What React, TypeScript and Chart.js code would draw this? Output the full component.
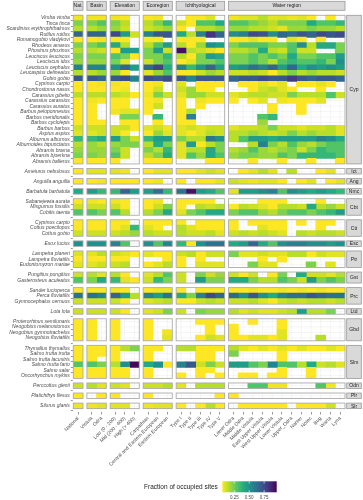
import React, { useEffect, useRef } from "react";
import { Chart, registerables } from "chart.js";

Chart.register(...registerables);

const _ = null;

// ---- column categories ----
const COLUMNS = [
  "National",
  "Vistula", "Odra",
  "Low (0 - 200)", "Mid (200 - 400)", "High (> 400)",
  "Carpathian", "Central and Eastern European", "Eastern European",
  "Type I", "Type II", "Type III", "Type IV", "Type V",
  "Lower Odra", "Middle Odra", "Middle Vistula", "East Upper Vistula", "West Upper Vistula",
  "Lower Vistula", "Upper_Odra", "Narew", "Notec", "Bug", "Warta", "Lyna",
];
const COLUMN_PANELS = ["Nat.", "Basin", "Elevation", "Ecoregion", "Ichthyological", "Water region"];
const PANEL_COUNTS = [1, 2, 3, 3, 5, 12];

// ---- legend ----
const LEGEND_TITLE = "Fraction of occupied sites";
const LEGEND_TICKS = [0.25, 0.5, 0.75];
const COLOR_MIN = 0.05;
const COLOR_MAX = 0.96;

// ---- species & values by family group ----
const CYP_SPECIES = [
  "Vimba vimba", "Tinca tinca", "Scardinius erythrophthalmus", "Rutilus rutilus", "Romanogobio vladykovi",
  "Rhodeus amarus", "Phoxinus phoxinus", "Leuciscus leuciscus", "Leuciscus idus", "Leuciscus cephalus",
  "Leucaspius delineatus", "Gobio gobio", "Cyprinus carpio", "Chondrostoma nasus", "Carassius gibelio",
  "Carassius carassius", "Carassius auratus", "Barbus peloponnesius", "Barbus meridionalis", "Barbus cyclolepis",
  "Barbus barbus", "Aspius aspius", "Alburnus alburnus", "Alburnoides bipunctatus", "Abramis brama",
  "Abramis bjoerkna", "Abramis ballerus",
];
const CYP_VALUES = [
  [0.07, 0.07, 0.07, 0.07, 0.06, _, 0.06, 0.07, _, _, 0.05, 0.05, 0.09, _, 0.07, 0.09, 0.09, 0.15, 0.09, 0.1, 0.07, 0.09, 0.05, _, 0.05, _],
  [0.23, 0.23, 0.3, 0.23, 0.15, _, 0.15, 0.23, 0.36, 0.12, 0.05, 0.3, 0.3, 0.41, 0.3, 0.3, 0.23, 0.19, 0.15, 0.23, 0.23, 0.23, 0.41, 0.3, 0.3, 0.36],
  [0.15, 0.15, 0.19, 0.19, 0.12, _, 0.12, 0.15, 0.19, 0.05, _, 0.15, 0.15, 0.19, 0.19, 0.19, 0.15, 0.15, 0.12, 0.09, 0.19, 0.19, 0.23, 0.19, 0.19, 0.15],
  [0.66, 0.66, 0.66, 0.75, 0.46, 0.12, 0.56, 0.71, 0.71, 0.41, 0.15, 0.56, 0.82, 0.66, 0.51, 0.56, 0.75, 0.71, 0.51, 0.66, 0.62, 0.71, 0.66, 0.75, 0.71, 0.75],
  [0.05, 0.05, 0.07, 0.05, 0.05, _, 0.05, 0.05, _, 0.05, 0.05, 0.05, _, _, 0.05, 0.05, 0.09, 0.05, 0.05, _, 0.09, 0.05, _, 0.05, _, _],
  [0.23, 0.23, 0.3, 0.41, 0.15, _, 0.15, 0.3, 0.46, 0.15, 0.05, 0.19, 0.51, 0.46, 0.23, 0.3, 0.3, 0.3, 0.23, 0.23, 0.3, 0.51, 0.15, 0.41, 0.41, 0.23],
  [0.15, 0.15, 0.12, 0.05, 0.46, 0.46, 0.23, 0.46, 0.12, 0.92, 0.15, 0.12, 0.09, 0.05, 0.15, 0.15, 0.19, 0.41, 0.15, 0.12, 0.3, 0.12, 0.12, _, _, 0.23],
  [0.23, 0.23, 0.23, 0.3, 0.23, 0.05, 0.23, 0.23, 0.36, 0.15, 0.05, 0.23, 0.46, 0.41, 0.23, 0.23, 0.3, 0.23, 0.3, 0.23, 0.41, 0.23, 0.23, 0.3, 0.3, 0.46],
  [0.19, 0.19, 0.19, 0.23, 0.09, _, 0.12, 0.23, 0.3, 0.05, 0.09, 0.23, 0.23, 0.3, 0.23, 0.23, 0.3, 0.23, 0.15, 0.3, 0.36, 0.3, 0.3, 0.36, 0.23, 0.51],
  [0.56, 0.56, 0.56, 0.51, 0.66, 0.46, 0.66, 0.78, 0.41, 0.56, 0.36, 0.51, 0.66, 0.46, 0.46, 0.51, 0.62, 0.56, 0.66, 0.46, 0.66, 0.41, 0.51, 0.46, 0.51, 0.46],
  [0.15, 0.15, 0.19, 0.19, 0.05, _, 0.09, 0.19, 0.3, 0.05, 0.05, 0.12, 0.19, 0.15, 0.12, 0.12, 0.15, 0.12, 0.05, 0.15, 0.23, 0.15, 0.19, 0.15, 0.15, 0.12],
  [0.71, 0.71, 0.66, 0.71, 0.75, 0.56, 0.75, 0.71, 0.75, 0.71, 0.56, 0.71, 0.71, 0.71, 0.66, 0.71, 0.71, 0.75, 0.71, 0.71, 0.8, 0.71, 0.66, 0.71, 0.71, 0.66],
  [0.05, 0.05, 0.07, 0.07, 0.05, _, 0.05, 0.07, _, 0.09, _, 0.05, 0.05, 0.05, _, 0.05, 0.05, 0.09, 0.05, 0.09, _, 0.05, 0.05, 0.09, 0.05, _],
  [0.05, 0.05, 0.05, 0.05, 0.07, _, 0.05, 0.12, _, 0.12, 0.19, 0.05, 0.05, _, _, _, 0.05, 0.12, 0.15, 0.09, 0.05, _, _, 0.05, _, _],
  [0.15, 0.15, 0.15, 0.15, 0.12, 0.05, 0.07, 0.23, 0.12, 0.09, 0.19, 0.19, 0.12, 0.12, 0.09, 0.12, 0.15, 0.15, 0.12, 0.12, 0.23, 0.15, 0.15, 0.15, 0.3, 0.12],
  [0.05, 0.07, 0.05, 0.05, 0.05, _, 0.05, 0.07, _, 0.05, _, 0.07, 0.05, 0.05, 0.05, _, 0.05, 0.09, _, 0.07, 0.05, 0.05, 0.05, 0.09, _, _],
  [0.05, 0.05, _, 0.05, 0.05, _, 0.05, 0.12, _, 0.05, _, 0.05, _, _, _, _, _, _, 0.05, _, _, 0.05, _, _, _, _],
  [0.05, 0.05, _, 0.07, 0.09, 0.09, 0.05, _, _, 0.05, 0.15, _, _, _, _, _, _, _, 0.05, _, _, 0.05, _, _, _, _],
  [0.05, 0.05, _, _, 0.23, 0.23, _, 0.36, _, 0.05, 0.56, _, _, _, _, _, _, 0.3, 0.36, _, _, _, _, _, _, _],
  [0.05, 0.05, 0.05, _, 0.05, 0.05, _, 0.05, _, 0.05, 0.05, _, _, _, _, _, _, 0.19, _, _, _, _, _, _, _, _],
  [0.12, 0.12, 0.12, 0.12, 0.12, 0.05, 0.09, 0.12, 0.07, 0.09, 0.12, 0.09, 0.12, 0.12, 0.09, 0.12, 0.12, 0.15, 0.23, 0.12, 0.12, 0.09, 0.12, 0.12, 0.15, 0.09],
  [0.09, 0.09, 0.12, 0.12, 0.05, _, 0.05, 0.19, 0.09, 0.09, 0.05, 0.09, 0.15, 0.12, 0.15, 0.15, 0.19, 0.15, 0.12, 0.15, 0.23, 0.15, 0.19, 0.15, 0.15, 0.09],
  [0.36, 0.36, 0.41, 0.46, 0.23, 0.12, 0.36, 0.46, 0.46, 0.23, 0.15, 0.15, 0.6, 0.51, 0.15, 0.3, 0.46, 0.46, 0.41, 0.46, 0.46, 0.46, 0.46, 0.56, 0.51, 0.41],
  [0.15, 0.19, 0.15, 0.19, 0.23, 0.23, 0.15, 0.41, 0.23, 0.09, 0.46, 0.05, 0.15, 0.23, _, _, 0.15, 0.56, 0.23, 0.15, 0.3, 0.19, 0.15, 0.23, 0.3, 0.3],
  [0.19, 0.19, 0.19, 0.23, 0.12, _, 0.23, 0.15, 0.36, 0.09, 0.15, 0.15, 0.41, 0.23, 0.15, 0.19, 0.3, 0.19, 0.15, 0.19, 0.23, 0.12, 0.23, 0.36, 0.3, 0.3],
  [0.23, 0.23, 0.19, 0.3, 0.12, _, 0.15, 0.23, 0.41, 0.09, 0.3, 0.19, 0.41, 0.3, 0.19, 0.23, 0.23, 0.19, 0.19, 0.3, 0.23, 0.36, 0.36, 0.36, 0.36, 0.3],
  [0.05, 0.05, 0.05, 0.05, _, _, 0.05, 0.05, 0.05, _, _, _, 0.05, 0.05, _, _, 0.05, _, _, 0.05, _, _, 0.05, _, _, 0.05],
];

const ICT_SPECIES = ["Ameiurus nebulosus"];
const ICT_VALUES = [
  [0.05, 0.09, 0.09, 0.09, 0.07, _, 0.05, 0.09, 0.09, 0.05, 0.05, 0.09, 0.12, 0.09, _, 0.05, 0.09, 0.15, 0.09, _, 0.15, _, _, 0.05, 0.09, _],
];

const ANG_SPECIES = ["Anguilla anguilla"];
const ANG_VALUES = [
  [0.05, 0.05, 0.07, 0.05, 0.05, 0.05, 0.05, 0.07, _, 0.05, _, 0.05, 0.05, 0.09, 0.12, 0.09, 0.07, 0.09, 0.09, 0.05, _, 0.05, 0.09, _, 0.05, 0.09],
];

const NMC_SPECIES = ["Barbatula barbatula"];
const NMC_VALUES = [
  [0.41, 0.46, 0.36, 0.36, 0.66, 0.46, 0.46, 0.62, 0.36, 0.62, 0.92, 0.46, 0.41, 0.3, 0.09, 0.46, 0.46, 0.51, 0.56, 0.3, 0.51, 0.46, 0.41, 0.46, 0.41, 0.36],
];

const CBT_SPECIES = ["Sabanejewia aurata", "Misgurnus fossilis", "Cobitis taenia"];
const CBT_VALUES = [
  [0.05, 0.07, 0.05, 0.07, 0.05, _, 0.05, 0.07, _, 0.05, 0.05, 0.05, 0.05, _, _, _, _, 0.05, 0.05, 0.05, _, _, _, 0.05, _, _],
  [0.12, 0.12, 0.12, 0.12, 0.05, _, 0.05, 0.12, 0.23, 0.05, _, 0.15, 0.12, 0.15, 0.05, 0.15, 0.12, 0.09, 0.05, 0.15, 0.15, 0.12, 0.41, 0.15, 0.19, 0.12],
  [0.3, 0.3, 0.23, 0.3, 0.15, _, 0.15, 0.23, 0.41, 0.09, 0.23, 0.3, 0.41, 0.41, 0.23, 0.3, 0.3, 0.19, 0.15, 0.23, 0.3, 0.3, 0.23, 0.3, 0.36, 0.46],
];

const CTT_SPECIES = ["Cyprinus carpio", "Cottus poecilopus", "Cottus gobio"];
const CTT_VALUES = [
  [0.05, 0.05, 0.05, 0.05, 0.05, _, 0.05, 0.05, 0.05, 0.05, _, 0.05, 0.05, 0.05, 0.05, _, 0.05, 0.05, 0.05, 0.05, _, 0.05, _, 0.05, 0.05, _],
  [0.05, 0.05, 0.05, 0.05, 0.09, 0.36, 0.09, 0.05, _, 0.15, 0.09, 0.05, 0.05, 0.05, 0.05, _, _, 0.09, 0.05, 0.05, _, _, _, 0.05, _, _],
  [0.12, 0.12, 0.12, 0.12, 0.15, 0.19, 0.15, 0.12, 0.12, 0.15, 0.12, 0.12, 0.15, 0.09, 0.12, 0.15, 0.12, 0.15, 0.12, 0.09, _, 0.15, 0.12, 0.15, 0.15, 0.12],
];

const ESC_SPECIES = ["Esox lucius"];
const ESC_VALUES = [
  [0.51, 0.51, 0.51, 0.56, 0.3, _, 0.51, 0.3, 0.56, 0.36, 0.05, 0.51, 0.62, 0.62, 0.41, 0.46, 0.66, 0.41, 0.3, 0.51, 0.56, 0.56, 0.51, 0.51, 0.46, 0.51],
];

const PTR_SPECIES = ["Lampetra planeri", "Lampetra fluviatilis", "Eudontomyzon mariae"];
const PTR_VALUES = [
  [0.1, 0.09, 0.15, 0.12, 0.09, 0.05, 0.09, 0.05, 0.05, 0.12, 0.15, 0.05, 0.12, 0.12, 0.23, 0.09, 0.09, 0.12, 0.09, 0.09, 0.15, 0.15, 0.05, 0.12, 0.09, 0.09],
  [0.05, 0.05, 0.05, 0.05, 0.05, _, _, _, 0.05, 0.05, _, 0.05, _, _, _, _, _, 0.05, _, 0.05, _, _, _, _, _, _],
  [0.09, 0.09, 0.12, 0.12, 0.15, _, 0.05, 0.09, 0.15, 0.05, _, 0.09, 0.09, 0.09, _, _, 0.23, 0.09, 0.09, _, _, _, 0.23, _, 0.09, _],
];

const GST_SPECIES = ["Pungitius pungitius", "Gasterosteus aculeatus"];
const GST_VALUES = [
  [0.12, 0.15, 0.09, 0.15, 0.05, _, 0.09, 0.15, 0.3, 0.12, _, 0.23, 0.12, 0.19, 0.12, 0.05, 0.12, _, 0.05, 0.23, _, 0.41, 0.12, 0.12, 0.09, 0.15],
  [0.3, 0.23, 0.41, 0.36, 0.09, 0.05, 0.12, 0.36, 0.23, 0.12, _, 0.46, 0.23, 0.23, 0.41, 0.41, 0.23, 0.15, 0.15, 0.3, 0.23, 0.12, 0.46, 0.23, 0.3, 0.23],
];

const PRC_SPECIES = ["Sander lucioperca", "Perca fluviatilis", "Gymnocephalus cernuus"];
const PRC_VALUES = [
  [0.05, 0.05, 0.05, 0.07, 0.05, _, 0.05, 0.07, 0.07, 0.05, _, 0.05, 0.05, 0.05, 0.05, 0.05, 0.07, 0.05, 0.05, 0.07, 0.05, 0.07, 0.05, 0.07, 0.05, 0.05],
  [0.62, 0.62, 0.56, 0.66, 0.46, 0.15, 0.56, 0.46, 0.62, 0.41, 0.23, 0.56, 0.75, 0.66, 0.66, 0.51, 0.71, 0.51, 0.41, 0.56, 0.62, 0.62, 0.71, 0.66, 0.62, 0.62],
  [0.12, 0.12, 0.12, 0.12, 0.05, _, 0.09, 0.12, 0.15, 0.05, 0.05, 0.12, 0.15, 0.12, 0.12, 0.12, 0.15, 0.09, 0.05, 0.12, 0.15, 0.12, 0.15, 0.15, 0.12, 0.15],
];

const LTD_SPECIES = ["Lota lota"];
const LTD_VALUES = [
  [0.12, 0.12, 0.12, 0.12, 0.05, _, 0.09, 0.12, 0.23, 0.12, _, 0.23, 0.19, 0.19, 0.15, 0.09, 0.12, 0.09, 0.09, 0.12, 0.15, 0.46, 0.15, 0.15, 0.23, _],
];

const GBD_SPECIES = ["Proterorhinus semilunaris", "Neogobius melanostomus", "Neogobius gymnotrachelus", "Neogobius fluviatilis"];
const GBD_VALUES = [
  [0.05, 0.05, _, 0.05, _, _, 0.05, _, _, _, _, 0.05, 0.05, 0.05, _, _, 0.05, _, _, 0.05, _, _, _, _, _, _],
  [0.05, 0.05, _, 0.05, _, _, 0.05, _, _, _, _, _, 0.05, _, 0.05, _, _, _, _, 0.05, _, _, _, _, _, _],
  [0.05, 0.05, _, 0.05, _, _, 0.05, _, 0.07, _, _, _, 0.05, _, 0.05, _, _, _, _, 0.09, _, _, _, _, _, _],
  [0.05, 0.05, _, 0.05, _, _, 0.05, _, 0.09, _, _, 0.05, 0.12, 0.09, 0.05, 0.05, 0.09, 0.09, 0.05, 0.09, _, _, _, 0.15, _, _],
];

const SLM_SPECIES = ["Thymallus thymallus", "Salmo trutta trutta", "Salmo trutta lacustris", "Salmo trutta fario", "Salmo salar", "Oncorhynchus mykiss"];
const SLM_VALUES = [
  [0.05, 0.05, 0.05, 0.05, 0.15, 0.23, 0.05, 0.05, _, 0.15, 0.15, 0.05, 0.05, 0.05, 0.15, 0.09, 0.05, 0.09, 0.05, 0.09, 0.05, 0.09, 0.05, 0.05, 0.09, 0.05],
  [0.05, 0.05, 0.05, 0.05, _, _, 0.05, _, _, _, _, 0.05, 0.05, _, 0.23, _, _, _, _, 0.05, _, _, _, _, _, _],
  [0.05, 0.05, _, 0.05, _, _, 0.05, _, _, _, _, 0.05, 0.05, _, _, _, _, _, _, 0.05, _, _, _, _, _, _],
  [0.3, 0.3, 0.23, 0.15, 0.51, 0.94, 0.41, 0.51, 0.05, 0.56, 0.71, 0.12, 0.23, 0.12, 0.46, 0.46, 0.3, 0.23, 0.56, 0.3, 0.3, 0.15, 0.41, 0.12, 0.15, 0.09],
  [0.05, 0.05, 0.05, 0.05, 0.05, _, 0.05, _, _, _, _, 0.05, 0.05, _, _, _, _, _, _, 0.05, _, _, 0.05, _, _, _],
  [0.05, 0.05, 0.05, 0.05, 0.05, _, 0.05, _, _, 0.05, _, 0.05, _, 0.05, _, 0.05, 0.05, _, 0.05, 0.05, _, _, 0.05, _, _, _],
];

const ODN_SPECIES = ["Perccottus glenii"];
const ODN_VALUES = [
  [0.12, 0.15, 0.09, 0.12, 0.09, _, 0.12, 0.12, 0.15, 0.09, _, 0.15, 0.15, 0.15, _, _, 0.3, 0.3, 0.07, 0.07, _, _, _, 0.3, 0.07, _],
];

const PLR_SPECIES = ["Platichthys flesus"];
const PLR_VALUES = [
  [0.05, _, 0.05, 0.05, _, _, 0.05, _, _, _, _, _, _, 0.05, 0.05, _, _, _, _, _, _, _, _, _, _, _],
];

const SLR_SPECIES = ["Silurus glanis"];
const SLR_VALUES = [
  [0.07, 0.07, 0.09, 0.09, 0.09, _, 0.07, 0.09, 0.09, 0.05, _, 0.05, 0.15, 0.05, _, 0.05, 0.05, 0.05, 0.05, 0.05, _, 0.05, 0.05, 0.05, 0.12, _],
];

const GROUP_CODES = ["Cyp", "Ict", "Ang", "Nmc", "Cbt", "Ctt", "Esc", "Ptr", "Gst", "Prc", "Ltd", "Gbd", "Slm", "Odn", "Plr", "Slr"];
const GROUP_SPECIES = [CYP_SPECIES, ICT_SPECIES, ANG_SPECIES, NMC_SPECIES, CBT_SPECIES, CTT_SPECIES, ESC_SPECIES, PTR_SPECIES, GST_SPECIES, PRC_SPECIES, LTD_SPECIES, GBD_SPECIES, SLM_SPECIES, ODN_SPECIES, PLR_SPECIES, SLR_SPECIES];
const GROUP_VALUES = [CYP_VALUES, ICT_VALUES, ANG_VALUES, NMC_VALUES, CBT_VALUES, CTT_VALUES, ESC_VALUES, PTR_VALUES, GST_VALUES, PRC_VALUES, LTD_VALUES, GBD_VALUES, SLM_VALUES, ODN_VALUES, PLR_VALUES, SLR_VALUES];

// ---- layout constants (gaps between facet panels, in axis units) ----
const X_GAP = 0.4;
const Y_GAP = 0.83;
const FONT = '"Liberation Sans", Arial, sans-serif';

// ---- colour scale (reversed viridis) ----
const VIRIDIS = ["#440154", "#482475", "#414487", "#355F8D", "#2A788E", "#21918C", "#22A884", "#44BF70", "#7AD151", "#BDDF26", "#FDE725"];
function hexRgb(h: string) {
  return [parseInt(h.slice(1, 3), 16), parseInt(h.slice(3, 5), 16), parseInt(h.slice(5, 7), 16)];
}
function viridis(t: number) {
  const c = Math.max(0, Math.min(1, t)) * (VIRIDIS.length - 1);
  const i = Math.min(Math.floor(c), VIRIDIS.length - 2);
  const f = c - i;
  const a = hexRgb(VIRIDIS[i]);
  const b = hexRgb(VIRIDIS[i + 1]);
  const m = a.map((v, k) => Math.round(v + (b[k] - v) * f));
  return `rgb(${m[0]},${m[1]},${m[2]})`;
}
function colorFor(v: number) {
  return viridis(1 - (v - COLOR_MIN) / (COLOR_MAX - COLOR_MIN));
}

export default function App() {
  const ref = useRef<HTMLCanvasElement | null>(null);

  useEffect(() => {
    // column positions
    const colPos: number[] = [];
    const panelRanges: { name: string; first: number; last: number }[] = [];
    let ci = 0;
    PANEL_COUNTS.forEach((n, p) => {
      const start = colPos.length;
      for (let k = 0; k < n; k++) {
        colPos.push(ci + p * X_GAP);
        ci++;
      }
      panelRanges.push({ name: COLUMN_PANELS[p], first: colPos[start], last: colPos[colPos.length - 1] });
    });
    // row positions
    const rowPos: number[] = [];
    const rowNames: string[] = [];
    const rowVals: (number | null)[][] = [];
    const groupRanges: { code: string; first: number; last: number }[] = [];
    let ri = 0;
    GROUP_SPECIES.forEach((sp, g) => {
      const start = rowPos.length;
      sp.forEach((name, k) => {
        rowPos.push(ri + g * Y_GAP);
        rowNames.push(name);
        rowVals.push(GROUP_VALUES[g][k]);
        ri++;
      });
      groupRanges.push({ code: GROUP_CODES[g], first: rowPos[start], last: rowPos[rowPos.length - 1] });
    });

    const datasets = COLUMNS.map((col, c) => ({
      label: col,
      data: rowVals
        .map((vals, r) => (vals[c] == null ? null : { y: rowPos[r], x: [colPos[c] - 0.5, colPos[c] + 0.5], v: vals[c] }))
        .filter((d) => d !== null),
      backgroundColor: (ctx: any) => (ctx.raw ? colorFor(ctx.raw.v) : "#fff"),
      borderWidth: 0,
      inflateAmount: 0.45,
      grouped: false,
      barPercentage: 1,
      categoryPercentage: 1,
    }));

    const facetPlugin = {
      id: "facets",
      beforeDatasetsDraw(chart: any) {
        const { ctx, scales } = chart;
        const xs = scales.x, ys = scales.y;
        ctx.save();
        groupRanges.forEach((g) => {
          const y0 = ys.getPixelForValue(g.first - 0.5);
          const y1 = ys.getPixelForValue(g.last + 0.5);
          panelRanges.forEach((p) => {
            const x0 = xs.getPixelForValue(p.first - 0.5);
            const x1 = xs.getPixelForValue(p.last + 0.5);
            ctx.fillStyle = "#ffffff";
            ctx.fillRect(x0, y0, x1 - x0, y1 - y0);
            ctx.strokeStyle = "#EBEBEB";
            ctx.lineWidth = 0.5;
            ctx.beginPath();
            colPos.forEach((cp) => {
              if (cp >= p.first && cp <= p.last) {
                const px = xs.getPixelForValue(cp);
                ctx.moveTo(px, y0);
                ctx.lineTo(px, y1);
              }
            });
            rowPos.forEach((rp) => {
              if (rp >= g.first && rp <= g.last) {
                const py = ys.getPixelForValue(rp);
                ctx.moveTo(x0, py);
                ctx.lineTo(x1, py);
              }
            });
            ctx.stroke();
          });
        });
        ctx.restore();
      },
      afterDatasetsDraw(chart: any) {
        const { ctx, scales, chartArea } = chart;
        const xs = scales.x, ys = scales.y;
        ctx.save();
        // gaps between panels stay clean (cover any inflated edges)
        ctx.fillStyle = "#ffffff";
        groupRanges.forEach((g, gi) => {
          if (gi === 0) return;
          const prev = groupRanges[gi - 1];
          const yA = ys.getPixelForValue(prev.last + 0.5);
          const yB = ys.getPixelForValue(g.first - 0.5);
          ctx.fillRect(chartArea.left - 0.5, yA, chartArea.right - chartArea.left + 1, yB - yA);
        });
        panelRanges.forEach((p, pi) => {
          if (pi === 0) return;
          const prev = panelRanges[pi - 1];
          const xA = xs.getPixelForValue(prev.last + 0.5);
          const xB = xs.getPixelForValue(p.first - 0.5);
          ctx.fillRect(xA, chartArea.top - 0.5, xB - xA, chartArea.bottom - chartArea.top + 1);
        });
        // panel borders
        groupRanges.forEach((g) => {
          const y0 = ys.getPixelForValue(g.first - 0.5);
          const y1 = ys.getPixelForValue(g.last + 0.5);
          panelRanges.forEach((p) => {
            const x0 = xs.getPixelForValue(p.first - 0.5);
            const x1 = xs.getPixelForValue(p.last + 0.5);
            ctx.strokeStyle = "#ABABAB";
            ctx.lineWidth = 0.9;
            ctx.strokeRect(x0, y0, x1 - x0, y1 - y0);
          });
        });
        // top strips
        ctx.font = `5px ${FONT}`;
        ctx.textAlign = "center";
        ctx.textBaseline = "middle";
        const sTop = chartArea.top - 10.6;
        const sH = 9;
        panelRanges.forEach((p) => {
          const x0 = xs.getPixelForValue(p.first - 0.5);
          const x1 = xs.getPixelForValue(p.last + 0.5);
          ctx.fillStyle = "#D9D9D9";
          ctx.fillRect(x0, sTop, x1 - x0, sH);
          ctx.strokeStyle = "#999999";
          ctx.lineWidth = 0.8;
          ctx.strokeRect(x0, sTop, x1 - x0, sH);
          ctx.fillStyle = "#1A1A1A";
          ctx.fillText(p.name, (x0 + x1) / 2, sTop + sH / 2 + 0.3);
        });
        // right strips
        const sLeft = chartArea.right + 1.7;
        const sW = 14.6;
        groupRanges.forEach((g) => {
          const y0 = ys.getPixelForValue(g.first - 0.5);
          const y1 = ys.getPixelForValue(g.last + 0.5);
          ctx.fillStyle = "#D9D9D9";
          ctx.fillRect(sLeft, y0, sW, y1 - y0);
          ctx.strokeStyle = "#999999";
          ctx.lineWidth = 0.8;
          ctx.strokeRect(sLeft, y0, sW, y1 - y0);
          ctx.fillStyle = "#1A1A1A";
          ctx.fillText(g.code, sLeft + sW / 2, (y0 + y1) / 2 + 0.3);
        });
        // legend
        const barX0 = 222.3, barX1 = 276.7, barY0 = 481.3, barY1 = 492.3;
        const grad = ctx.createLinearGradient(barX0, 0, barX1, 0);
        VIRIDIS.forEach((c, i) => grad.addColorStop(1 - i / (VIRIDIS.length - 1), c));
        ctx.fillStyle = grad;
        ctx.fillRect(barX0, barY0, barX1 - barX0, barY1 - barY0);
        ctx.strokeStyle = "#ffffff";
        ctx.lineWidth = 0.6;
        ctx.fillStyle = "#4D4D4D";
        ctx.font = `4.5px ${FONT}`;
        ctx.textAlign = "center";
        ctx.textBaseline = "middle";
        LEGEND_TICKS.forEach((t) => {
          const px = barX0 + ((t - COLOR_MIN) / (COLOR_MAX - COLOR_MIN)) * (barX1 - barX0);
          ctx.beginPath();
          ctx.moveTo(px, barY0);
          ctx.lineTo(px, barY0 + 2.2);
          ctx.moveTo(px, barY1);
          ctx.lineTo(px, barY1 - 2.2);
          ctx.stroke();
          ctx.fillText(t.toFixed(2), px, 497.6);
        });
        ctx.font = `6.5px ${FONT}`;
        ctx.textAlign = "right";
        ctx.fillStyle = "#1A1A1A";
        ctx.fillText(LEGEND_TITLE, barX0 - 4.5, (barY0 + barY1) / 2 + 0.3);
        ctx.restore();
      },
    };

    const chart = new Chart(ref.current as HTMLCanvasElement, {
      type: "bar",
      data: { datasets: datasets as any },
      options: {
        indexAxis: "y",
        animation: false,
        responsive: false,
        devicePixelRatio: 1,
        events: [],
        layout: { padding: { left: 0, right: 18, top: 11.9, bottom: 0 } },
        plugins: { legend: { display: false }, tooltip: { enabled: false } },
        scales: {
          x: {
            type: "linear",
            position: "bottom",
            min: colPos[0] - 0.5,
            max: colPos[colPos.length - 1] + 0.5,
            bounds: "data",
            afterBuildTicks: (s: any) => {
              s.ticks = colPos.map((v) => ({ value: v }));
            },
            afterFit: (s: any) => {
              s.height = 88;
            },
            grid: { drawOnChartArea: false, drawTicks: true, tickLength: 2.5, color: "#333333", lineWidth: 0.5 },
            border: { display: false },
            ticks: {
              autoSkip: false,
              minRotation: 45,
              maxRotation: 45,
              padding: 1,
              color: "#4D4D4D",
              font: { family: FONT, size: 5 },
              callback: (_v: any, i: number) => COLUMNS[i],
            },
          },
          y: {
            type: "linear",
            position: "left",
            reverse: true,
            min: rowPos[0] - 0.5,
            max: rowPos[rowPos.length - 1] + 0.5,
            bounds: "data",
            afterBuildTicks: (s: any) => {
              s.ticks = rowPos.map((v) => ({ value: v }));
            },
            afterFit: (s: any) => {
              s.width = 73.3;
            },
            grid: { drawOnChartArea: false, drawTicks: true, tickLength: 2.5, color: "#333333", lineWidth: 0.5 },
            border: { display: false },
            ticks: {
              autoSkip: false,
              padding: 1,
              color: "#4D4D4D",
              font: { family: FONT, size: 5, style: "italic" },
              callback: (_v: any, i: number) => rowNames[i],
            },
          },
        },
      } as any,
      plugins: [facetPlugin],
    });
    return () => chart.destroy();
  }, []);

  return (
    <div style={{ position: "fixed", left: 0, top: 0, width: 363, height: 500, background: "#ffffff" }}>
      <canvas ref={ref} width={363} height={500} style={{ width: 363, height: 500, display: "block" }} />
    </div>
  );
}
